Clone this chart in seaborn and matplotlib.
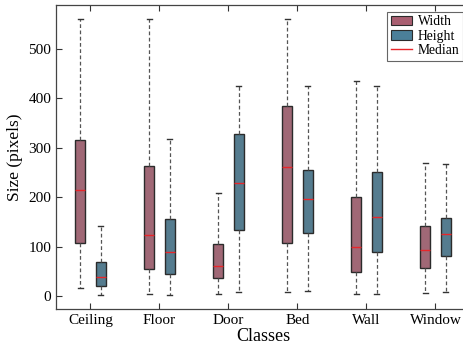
import numpy as np
import pandas as pd
import matplotlib
matplotlib.use("Agg")
import matplotlib.pyplot as plt
from matplotlib.patches import Patch
from matplotlib.lines import Line2D
import seaborn as sns

# Classes on the x axis
classes = ["Ceiling", "Floor", "Door", "Bed", "Wall", "Window"]

# Five-number summaries (min, Q1, median, Q3, max) of object size in pixels
width_min = [16, 5, 5, 9, 4, 7]
width_q1 = [108, 54, 36, 108, 48, 56]
width_med = [215, 123, 60, 261, 99, 92]
width_q3 = [315, 262, 105, 385, 201, 141]
width_max = [560, 560, 208, 560, 434, 269]

height_min = [1, 3, 9, 11, 5, 8]
height_q1 = [20, 44, 133, 127, 88, 80]
height_med = [38, 89, 229, 197, 159, 125]
height_q3 = [68, 155, 327, 254, 250, 157]
height_max = [141, 317, 425, 425, 425, 266]

measures = ["Width", "Height"]
yticks = [0, 100, 200, 300, 400, 500]

rows = []
for i, c in enumerate(classes):
    for m, stats in (("Width", (width_min, width_q1, width_med, width_q3, width_max)),
                     ("Height", (height_min, height_q1, height_med, height_q3, height_max))):
        for s in stats:
            rows.append({"Classes": c, "Measure": m, "Size": s[i]})
df = pd.DataFrame(rows)

plt.rcParams["font.family"] = ["Liberation Serif", "DejaVu Serif"]
plt.rcParams["xtick.direction"] = "in"
plt.rcParams["ytick.direction"] = "in"

colors = {"Width": "#A95F71", "Height": "#4B7F99"}
edge = "#2b2b2b"

fig = plt.figure(figsize=(4.64, 3.49), dpi=100)
ax = fig.add_axes([56 / 464, 1 - 309 / 349, (470 - 56) / 464, (309 - 5) / 349])

sns.boxplot(
    data=df, x="Classes", y="Size", hue="Measure", order=classes, hue_order=measures,
    palette=colors, whis=(0, 100), width=0.58, gap=0.5, linecolor=edge, linewidth=1.0,
    fliersize=0, legend=False, ax=ax,
    medianprops=dict(color="#e8262a", linewidth=1.0),
    whiskerprops=dict(color="#555555", linestyle=(0, (3, 2)), linewidth=0.9),
    capprops=dict(color="#333333", linewidth=1.0),
)

ax.set_ylim(-26.3, 588.3)
ax.set_xlim(-0.5, len(classes) - 0.5)
ax.set_yticks(yticks)
ax.tick_params(axis="both", labelsize=11, length=4, width=0.8, colors="#333333",
               labelcolor="black")
ax.tick_params(axis="x", top=True)
for sp in ax.spines.values():
    sp.set_color("#444444")
    sp.set_linewidth(0.9)
ax.spines["right"].set_visible(False)

ax.set_xlabel("Classes", fontsize=13, labelpad=1)
ax.set_ylabel("Size (pixels)", fontsize=12.5, labelpad=4)

handles = [
    Patch(facecolor=colors["Width"], edgecolor=edge, linewidth=0.8),
    Patch(facecolor=colors["Height"], edgecolor=edge, linewidth=0.8),
    Line2D([0], [0], color="#e8262a", linewidth=1.0),
]
leg = ax.legend(handles, ["Width", "Height", "Median"], loc="upper right",
                bbox_to_anchor=(463 / 464, 1 - 12 / 349), bbox_transform=fig.transFigure,
                fontsize=9.8, fancybox=False, framealpha=1, edgecolor="#666666",
                borderpad=0.25, labelspacing=0.1, handlelength=1.6, handletextpad=0.4,
                borderaxespad=0.0)
leg.get_frame().set_linewidth(0.8)

fig.savefig("out.png", dpi=100)
